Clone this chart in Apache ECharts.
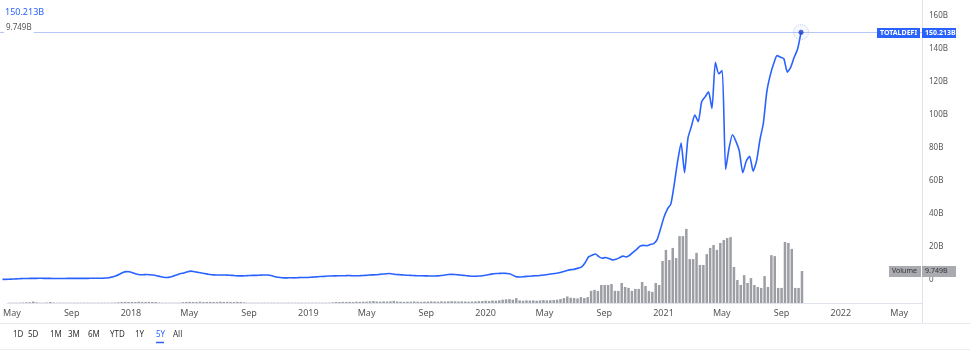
<!DOCTYPE html>
<html>
<head>
<meta charset="utf-8">
<script src="https://cdn.jsdelivr.net/npm/echarts@6/dist/echarts.min.js"></script>
<style>
  html, body { margin: 0; padding: 0; background: #fff; }
  #chart { width: 970px; height: 351px; }
</style>
</head>
<body>
<div id="chart"></div>
<script>
// weekly data, first week starts here
const startDate = '2017-04-26';

// TOTALDEFI, billions
const price = [
  0.4, 0.4, 0.5, 0.6, 0.7, 0.8, 0.9, 0.9, 1.0, 1.0,
  1.0, 1.1, 1.0, 1.0, 1.0, 0.9, 0.9, 0.9, 0.9, 1.0,
  1.0, 1.0, 1.0, 1.0, 1.0, 1.0, 1.1, 1.1, 1.1, 1.1,
  1.2, 1.4, 1.8, 2.4, 3.3, 4.4, 5.1, 5.0, 4.4, 3.7,
  3.2, 3.2, 3.3, 3.2, 3.0, 2.6, 2.1, 1.7, 1.5, 1.8,
  2.5, 3.2, 3.9, 4.3, 5.0, 5.4, 5.0, 4.6, 4.2, 3.9,
  3.5, 3.2, 3.1, 3.0, 3.0, 3.0, 2.9, 2.8, 2.6, 2.5,
  2.5, 2.6, 2.7, 2.8, 2.8, 2.9, 3.0, 3.0, 2.9, 2.3,
  1.8, 1.5, 1.3, 1.3, 1.4, 1.3, 1.4, 1.5, 1.5, 1.5,
  1.7, 1.8, 2.0, 2.1, 2.2, 2.4, 2.4, 2.5, 2.6, 2.6,
  2.6, 2.7, 2.6, 2.6, 2.6, 2.7, 2.8, 3.0, 3.1, 3.2,
  3.4, 3.6, 3.8, 3.9, 3.6, 3.3, 3.2, 3.0, 2.9, 2.8,
  2.7, 2.6, 2.6, 2.5, 2.5, 2.4, 2.4, 2.5, 2.7, 3.0,
  3.3, 3.4, 3.3, 3.1, 2.9, 2.7, 2.5, 2.3, 2.3, 2.4,
  2.6, 2.9, 3.3, 3.7, 3.9, 4.0, 4.1, 4.0, 3.8, 2.8,
  1.9, 1.8, 2.0, 2.2, 2.3, 2.5, 2.6, 2.8, 3.0, 3.3,
  3.6, 3.9, 4.2, 4.7, 5.3, 5.9, 6.3, 6.6, 7.2, 8.0,
  10.5, 14.0, 15.0, 15.8, 14.2, 13.2, 13.6, 13.0, 12.2, 12.6,
  13.5, 14.5, 14.0, 15.0, 16.8, 18.5, 20.5, 21.0, 20.8, 21.5,
  22.0, 24.5, 31, 38, 43, 46, 58, 72, 83, 65,
  86, 93, 100, 96, 108, 111, 114, 104, 132, 125,
  127, 67, 80, 88, 84, 78, 65, 72, 75, 66,
  72, 85, 95, 114, 124, 131, 136, 135, 134, 126,
  129, 135, 140, 150.213
];

// weekly volume, billions
const volume = [
  0.1, 0.1, 0.1, 0.1, 0.15, 0.2, 0.25, 0.45, 0.2, 0.1,
  0.1, 0.15, 0.3, 0.15, 0.1, 0.1, 0.1, 0.1, 0.1, 0.1,
  0.1, 0.1, 0.1, 0.1, 0.1, 0.1, 0.1, 0.1, 0.1, 0.1,
  0.1, 0.15, 0.2, 0.3, 0.35, 0.3, 0.35, 0.3, 0.4, 0.3,
  0.3, 0.35, 0.3, 0.3, 0.15, 0.1, 0.1, 0.1, 0.1, 0.1,
  0.1, 0.25, 0.3, 0.35, 0.3, 0.3, 0.4, 0.3, 0.3, 0.35,
  0.3, 0.3, 0.4, 0.3, 0.35, 0.3, 0.3, 0.35, 0.3, 0.2,
  0.1, 0.1, 0.1, 0.1, 0.1, 0.1, 0.1, 0.1, 0.1, 0.1,
  0.1, 0.1, 0.1, 0.1, 0.1, 0.1, 0.1, 0.1, 0.1, 0.1,
  0.1, 0.1, 0.1, 0.1, 0.1, 0.2, 0.3, 0.3, 0.35, 0.3,
  0.35, 0.3, 0.4, 0.35, 0.4, 0.4, 0.5, 0.6, 0.45, 0.4,
  0.5, 0.45, 0.5, 0.65, 0.45, 0.4, 0.35, 0.4, 0.4, 0.45,
  0.4, 0.35, 0.4, 0.45, 0.5, 0.45, 0.4, 0.5, 0.45, 0.5,
  0.55, 0.5, 0.45, 0.5, 0.45, 0.4, 0.45, 0.5, 0.55, 0.6,
  0.7, 0.6, 0.75, 0.7, 0.8, 1.0, 1.1, 1.2, 1.0, 1.5,
  0.8, 0.7, 0.8, 0.75, 0.8, 0.7, 0.8, 0.9, 0.8, 0.85,
  0.9, 1.0, 1.2, 1.5, 2.0, 1.6, 1.5, 1.4, 1.8, 1.5,
  1.8, 3.7, 4.0, 3.7, 5.5, 5.5, 5.5, 5.8, 3.7, 3.7,
  6.1, 4.9, 4.6, 3.7, 4.3, 4.3, 6.4, 5.2, 3.7, 3.4,
  6.1, 5.5, 12.8, 16.2, 13.1, 16.8, 13.7, 20.4, 20.4, 22.6,
  13.4, 13.4, 15.3, 11.6, 11.6, 14.9, 16.8, 17.7, 16.2, 18.3,
  19.2, 19.8, 20.1, 11.0, 7.0, 5.5, 8.5, 6.1, 7.6, 5.5,
  4.9, 4.6, 8.2, 4.9, 14.6, 14.3, 4.6, 4.6, 18.6, 18.3,
  16.5, 4.6, 4.6, 9.749
];

// x axis labels
const xTickDates = [
  '2017-05-01', '2017-09-01', '2018-01-01', '2018-05-01', '2018-09-01',
  '2019-01-01', '2019-05-01', '2019-09-01', '2020-01-01', '2020-05-01',
  '2020-09-01', '2021-01-01', '2021-05-01', '2021-09-01', '2022-01-01',
  '2022-05-01'
];
const xTickLabels = [
  'May', 'Sep', '2018', 'May', 'Sep', '2019', 'May', 'Sep', '2020', 'May',
  'Sep', '2021', 'May', 'Sep', '2022', 'May'
];
const rangeButtons = ['1D', '5D', '1M', '3M', '6M', 'YTD', '1Y', '5Y', 'All'];

const DAY = 86400000;
const t0 = new Date(startDate + 'T00:00:00Z').getTime();
const weeks = price.map((v, i) => t0 + i * 7 * DAY);
const tickTimes = xTickDates.map(d => new Date(d + 'T00:00:00Z').getTime());
const xMin = new Date('2017-04-21T00:00:00Z').getTime();
const xMax = new Date('2022-06-17T00:00:00Z').getTime();

const lastPrice = price[price.length - 1];
const lastVol = volume[volume.length - 1];
const lastTime = weeks[weeks.length - 1];

const font = 'Noto Sans, Arial, sans-serif';
const blue = '#2962ff';

let chart = echarts.init(document.getElementById('chart'));

// bottom range buttons
const btnX = [13, 28, 50, 68, 88, 110, 135, 156, 173];
let buttons = rangeButtons.map((b, i) => ({
  type: 'text', left: btnX[i], top: 331,
  style: { text: b, fill: b === '5Y' ? blue : '#333', font: '8px ' + font }
}));

let option = {
  animation: false,
  grid: [
    { left: 0, right: 48, top: 0, height: 280 },
    { left: 0, right: 48, top: 223, height: 80 }
  ],
  xAxis: [
    { gridIndex: 0, type: 'value', min: xMin, max: xMax, show: false },
    {
      gridIndex: 1, type: 'value', min: xMin, max: xMax,
      axisLine: { lineStyle: { color: '#e0e3eb' } },
      axisTick: { show: false },
      splitLine: { show: false },
      axisLabel: {
        customValues: tickTimes,
        showMinLabel: true,
        showMaxLabel: true,
        alignMinLabel: 'center',
        alignMaxLabel: 'center',
        margin: 6,
        color: '#555',
        fontSize: 9,
        fontFamily: font,
        formatter: function (v) {
          let k = tickTimes.indexOf(v);
          return k >= 0 ? xTickLabels[k] : '';
        }
      }
    }
  ],
  yAxis: [
    {
      gridIndex: 0, type: 'value', position: 'right',
      min: 0, max: 169.7, interval: 20,
      axisLine: { show: false }, axisTick: { show: false },
      splitLine: { show: false },
      axisLabel: {
        showMaxLabel: false, margin: 7, color: '#555', fontSize: 8, fontFamily: font,
        formatter: v => v === 0 ? '0' : v + 'B'
      }
    },
    { gridIndex: 1, type: 'value', min: 0, max: 24.4, show: false }
  ],
  series: [
    {
      name: 'Volume', type: 'bar', xAxisIndex: 1, yAxisIndex: 1,
      data: weeks.map((t, i) => [t, volume[i]]),
      barWidth: 2.5,
      itemStyle: { color: '#9c9ea4' }
    },
    {
      name: 'TOTALDEFI', type: 'line', xAxisIndex: 0, yAxisIndex: 0,
      data: weeks.map((t, i) => [t, price[i]]),
      showSymbol: false, smooth: 0.2,
      lineStyle: { color: blue, width: 1.6 },
      markLine: {
        silent: true, symbol: 'none', label: { show: false },
        lineStyle: { color: '#b7c5f7', width: 1, type: 'solid' },
        data: [{ yAxis: lastPrice }]
      }
    },
    {
      type: 'scatter', xAxisIndex: 0, yAxisIndex: 0,
      data: [[lastTime, lastPrice]], symbolSize: 15,
      itemStyle: { color: 'rgba(41,98,255,0.06)', borderColor: '#a9b9ef', borderWidth: 1, borderType: 'dotted' },
      z: 5
    },
    {
      type: 'scatter', xAxisIndex: 0, yAxisIndex: 0,
      data: [[lastTime, lastPrice]], symbolSize: 5,
      itemStyle: { color: '#1a3fbf' }, z: 6
    }
  ],
  graphic: [
    // separators
    { type: 'line', shape: { x1: 922.5, y1: 0, x2: 922.5, y2: 323 }, style: { stroke: '#e0e3eb', lineWidth: 1 } },
    { type: 'line', shape: { x1: 0, y1: 323.5, x2: 970, y2: 323.5 }, style: { stroke: '#e6e8ee', lineWidth: 1 } },
    { type: 'line', shape: { x1: 0, y1: 349.5, x2: 970, y2: 349.5 }, style: { stroke: '#eceef2', lineWidth: 1 } },
    // legend values top left
    { type: 'text', left: 5, top: 8, style: { text: lastPrice.toFixed(3) + 'B', fill: blue, font: '9px ' + font } },
    {
      type: 'text', left: 4, top: 23, z: 10,
      style: { text: lastVol.toFixed(3) + 'B', fill: '#555', font: '8px ' + font, backgroundColor: '#fff', padding: [1, 2] }
    },
    // price label on axis
    {
      type: 'text', left: 877, top: 28, z: 10,
      style: { text: 'TOTALDEFI', fill: '#fff', font: 'bold 7px ' + font, backgroundColor: blue, padding: [1, 3], width: 37, height: 8, align: 'center' }
    },
    {
      type: 'text', left: 922, top: 28, z: 10,
      style: { text: lastPrice.toFixed(3) + 'B', fill: '#fff', font: 'bold 7px ' + font, backgroundColor: blue, padding: [1, 3], width: 28, height: 8 }
    },
    // volume label on axis
    {
      type: 'text', left: 889, top: 266, z: 10,
      style: { text: 'Volume', fill: '#333', font: '7px ' + font, backgroundColor: '#a9abb1', padding: [1, 3], width: 26, height: 9 }
    },
    {
      type: 'text', left: 922, top: 266, z: 10,
      style: { text: lastVol.toFixed(3) + 'B', fill: '#333', font: '7px ' + font, backgroundColor: '#a9abb1', padding: [1, 3], width: 28, height: 9 }
    },
    // 5Y underline
    { type: 'line', shape: { x1: 156, y1: 342.5, x2: 164, y2: 342.5 }, style: { stroke: blue, lineWidth: 1.5 } }
  ].concat(buttons)
};

chart.setOption(option);
</script>
</body>
</html>
